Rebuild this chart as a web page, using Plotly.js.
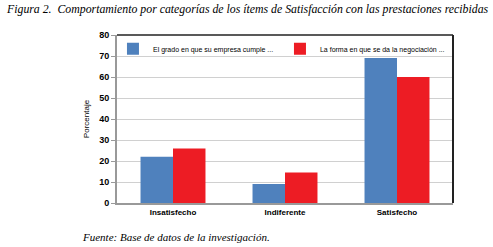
<!DOCTYPE html>
<html><head><meta charset="utf-8">
<script src="https://cdn.plot.ly/plotly-3.0.1.min.js"></script>
<style>html,body{margin:0;padding:0;background:#fff;}#c{width:493px;height:247px;}</style>
</head><body><div id="c"></div>
<script>
const categories = ["Insatisfecho", "Indiferente", "Satisfecho"];
const seriesNames = ["El grado en que su empresa cumple ...", "La forma en que se da la negociación ..."];
const serie1 = [22, 9, 69];
const serie2 = [26, 14.5, 60];
const yTicks = [0, 10, 20, 30, 40, 50, 60, 70, 80];

const serif = "'Liberation Serif', 'Times New Roman', serif";
const sans = "'Liberation Sans', Arial, sans-serif";
const traces = [
  {type: 'bar', x: categories, y: serie1, name: seriesNames[0], marker: {color: '#4F81BD'}},
  {type: 'bar', x: categories, y: serie2, name: seriesNames[1], marker: {color: '#ED1C24'}}
];
const layout = {
  width: 493, height: 247,
  margin: {l: 117, r: 40, t: 35, b: 44, autoexpand: false},
  paper_bgcolor: '#fff', plot_bgcolor: '#fff',
  barmode: 'group', bargap: 0.42, bargroupgap: 0,
  font: {family: sans, color: '#000'},
  showlegend: true,
  legend: {orientation: 'h', x: -0.012, y: 1.004, xanchor: 'left', yanchor: 'top',
    font: {size: 7, family: sans}, bgcolor: 'rgba(255,255,255,0)',
    itemwidth: 30, tracegroupgap: 0, entrywidth: 122, entrywidthmode: 'pixels'},
  xaxis: {showgrid: false, showline: true, linecolor: '#999', linewidth: 2,
    tickfont: {size: 8, family: sans, weight: 'bold'},
    ticks: '', fixedrange: true},
  yaxis: {range: [0, 80], tickvals: yTicks, showgrid: true, gridcolor: '#d0d0d0', gridwidth: 1,
    showline: true, linecolor: '#999', linewidth: 2, ticks: 'outside', ticklen: 4, tickcolor: '#999',
    tickfont: {size: 9, family: sans, weight: 'bold'},
    title: {text: 'Porcentaje', font: {size: 8}, standoff: 8}, zeroline: false},
  shapes: [
    {type: 'line', xref: 'paper', yref: 'paper', x0: 0, x1: 1, y0: 1, y1: 1, line: {color: '#222', width: 1.5}},
    {type: 'line', xref: 'paper', yref: 'paper', x0: 1, x1: 1, y0: 0, y1: 1, line: {color: '#222', width: 2}}
  ],
  annotations: [
    {text: 'Figura 2.  Comportamiento por categorías de los ítems de Satisfacción con las prestaciones recibidas',
     xref: 'paper', yref: 'paper', x: -113/336, y: 1 + 26/168, xanchor: 'left', yanchor: 'middle', showarrow: false,
     font: {family: serif, size: 11.8, style: 'italic'}},
    {text: 'Fuente: Base de datos de la investigación.',
     xref: 'paper', yref: 'paper', x: -37/336, y: -34/168, xanchor: 'left', yanchor: 'middle', showarrow: false,
     font: {family: serif, size: 11, style: 'italic'}}
  ]
};
Plotly.newPlot('c', traces, layout, {displayModeBar: false, staticPlot: true});
</script></body></html>
